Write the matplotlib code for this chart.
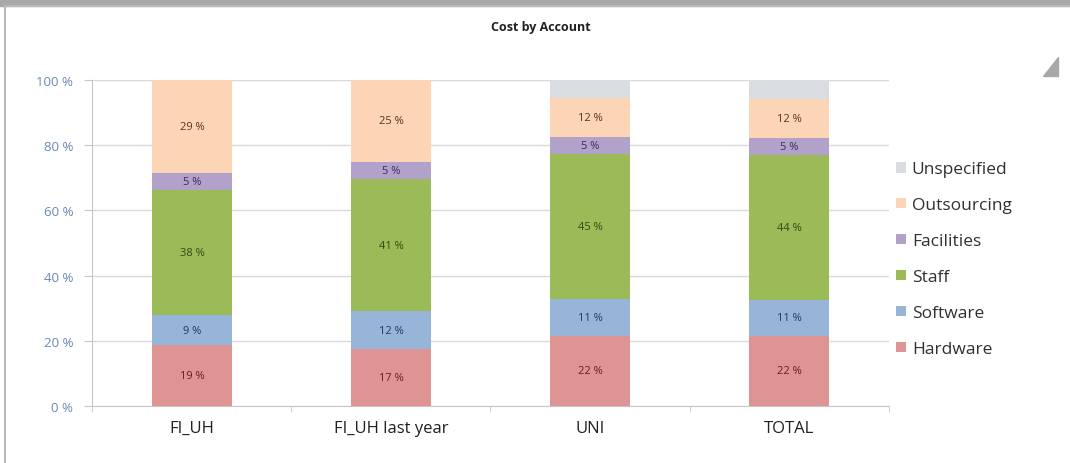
import numpy as np
import matplotlib.pyplot as plt
from matplotlib.patches import Rectangle

plt.rcParams['font.family'] = ['Open Sans', 'DejaVu Sans']

# data (percent of total cost)
categories = ['FI_UH', 'FI_UH last year', 'UNI', 'TOTAL']
accounts = ['Hardware', 'Software', 'Staff', 'Facilities', 'Outsourcing', 'Unspecified']
hardware = [18.6, 17.4, 21.6, 21.6]
software = [9.2, 11.6, 11.2, 11.0]
staff = [38.4, 40.6, 44.6, 44.4]
facilities = [5.2, 5.4, 5.2, 5.2]
outsourcing = [28.6, 25.0, 11.9, 12.0]
unspecified = [0.0, 0.0, 5.5, 5.8]
yticks = [0, 20, 40, 60, 80, 100]

series = [hardware, software, staff, facilities, outsourcing, unspecified]
colors = ['#DE9493', '#97B4D9', '#9BBB59', '#B2A2C9', '#FBD5B6', '#D9DCE0']
text_colors = ['#6A1E1C', '#1F3A5F', '#2F4A10', '#3A2A66', '#5A3510', None]

fig = plt.figure(figsize=(10.7, 4.64), dpi=100)
ax = fig.add_axes([0.0864, 0.123, 0.7440, 0.702])

x = np.arange(len(categories))
bottom = np.zeros(len(categories))
handles = []
for vals, col, tcol, name in zip(series, colors, text_colors, accounts):
    vals = np.array(vals)
    b = ax.bar(x, vals, 0.4, bottom=bottom, color=col, label=name, zorder=2)
    handles.append(b)
    if tcol is not None:
        for xi, v, bt in zip(x, vals, bottom):
            if v > 0:
                ax.text(xi, bt + v / 2, f'{round(v):d} %', ha='center', va='center',
                        fontsize=8, color=tcol, zorder=3)
    bottom += vals

ax.set_xlim(-0.5, len(categories) - 0.5)
ax.set_ylim(0, 100)
ax.set_yticks(yticks)
ax.set_yticklabels([f'{t} %' for t in yticks], color='#6A86B8', fontsize=9.5)
ax.set_xticks(x)
ax.set_xticklabels(categories, fontsize=12, color='#202020')
ax.set_xticks(np.arange(len(categories) + 1) - 0.5, minor=True)
ax.tick_params(axis='x', which='major', length=0, pad=10)
ax.tick_params(axis='x', which='minor', length=4, color='#C8C8C8')
ax.tick_params(axis='y', length=6, color='#C8C8C8', pad=8)
ax.grid(axis='y', color='#DADADA', linewidth=1, zorder=0)
for s in ['top', 'right']:
    ax.spines[s].set_visible(False)
for s in ['left', 'bottom']:
    ax.spines[s].set_color('#C8C8C8')

ax.legend(handles[::-1], accounts[::-1], loc='center left', bbox_to_anchor=(0.99, 0.45),
          frameon=False, fontsize=12.5, handlelength=0.55, handleheight=0.55,
          handletextpad=0.35, labelspacing=1.15, labelcolor='#303030')

fig.text(0.505, 0.94, 'Cost by Account', ha='center', va='center',
         fontsize=9, fontweight='bold', color='#202020')

# frame of the chart
fig.patches.append(Rectangle((0, 1 - 7 / 464), 1, 7 / 464, transform=fig.transFigure,
                             color='#A8A8A8', zorder=0))
fig.patches.append(Rectangle((5 / 1070, -0.01), 1.1, 1 - 7 / 464 + 0.01, transform=fig.transFigure,
                             fill=False, edgecolor='#B8B8B8', linewidth=1.5, zorder=0))
fig.patches.append(plt.Polygon([[1043 / 1070, 1 - 77 / 464], [1058 / 1070, 1 - 77 / 464],
                                [1058 / 1070, 1 - 58 / 464]], closed=True,
                               transform=fig.transFigure, color='#A8A8A8'))

fig.savefig('out.png', dpi=100)
